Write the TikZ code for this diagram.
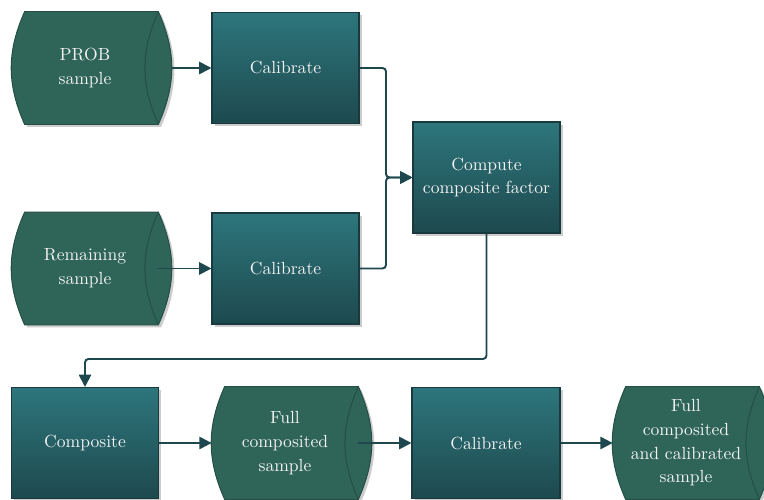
\documentclass[tikz,border=0pt]{standalone}
\usepackage{tikz}
\usetikzlibrary{arrows.meta,positioning,calc,shadows,backgrounds}

\definecolor{drumfill}{RGB}{47,101,88}
\definecolor{drumedge}{RGB}{37,80,70}
\definecolor{boxtop}{RGB}{45,118,124}
\definecolor{boxbot}{RGB}{29,73,78}
\definecolor{boxedge}{RGB}{24,58,62}
\definecolor{linkcol}{RGB}{30,72,78}
\definecolor{txt}{RGB}{242,242,242}

% horizontal drum drawn behind a named node
\newcommand{\drum}[1]{%
  \begin{scope}[on background layer]
    \filldraw[fill=drumfill, draw=drumedge, line width=0.6pt,
      drop shadow={shadow xshift=1.5pt, shadow yshift=-1.5pt, opacity=0.2, fill=black}]
      ([xshift=0.26cm]#1.north west) to[bend right=24] ([xshift=0.26cm]#1.south west)
      -- (#1.south east) to[bend right=24] (#1.north east) -- cycle;
    \draw[draw=drumedge, line width=0.6pt] (#1.north east) to[bend right=24] (#1.south east);
  \end{scope}}

\begin{document}
\begin{tikzpicture}[
  every node/.style={font=\fontsize{10}{13.5}\selectfont, text=txt, align=center},
  box/.style={draw=boxedge, line width=0.6pt, top color=boxtop, bottom color=boxbot,
    minimum width=2.94cm, minimum height=2.22cm, inner sep=2pt,
    drop shadow={shadow xshift=1.5pt, shadow yshift=-1.5pt, opacity=0.2, fill=black}},
  drum/.style={minimum width=2.92cm, minimum height=2.24cm, inner sep=2pt},
  arr/.style={-{Triangle[length=7pt, width=7pt]}, line width=1.1pt, draw=linkcol, rounded corners=2pt}
]
\useasboundingbox (0,0) rectangle (15.28,-10);

\node[drum] (prob) at (1.70,-1.36) {PROB\\sample};
\node[box] (cal1) at (5.71,-1.36) {Calibrate};
\node[drum] (rem) at (1.70,-5.37) {Remaining\\sample};
\node[box] (cal2) at (5.71,-5.37) {Calibrate};
\node[box] (cf) at (9.73,-3.55) {Compute\\composite factor};
\node[box] (cmp) at (1.70,-8.86) {Composite};
\node[drum] (full) at (5.70,-8.86) {Full\\composited\\sample};
\node[box, minimum width=2.96cm] (cal3) at (9.72,-8.86) {Calibrate};
\node[drum] (fin) at (13.72,-8.86) {Full\\composited\\and calibrated\\sample};

\drum{prob}
\drum{rem}
\drum{full}
\drum{fin}

\coordinate (jn) at ($(cal1.east)!.5!(cf.west)$);
\coordinate (jn) at (jn |- cf.west);

\draw[arr] ([xshift=0.28cm]prob.east) -- (cal1);
\draw[arr] (rem.east) -- (cal2);
\draw[arr] (cal1.east) -| (jn) -- (cf.west);
\draw[arr] (cal2.east) -| (jn) -- (cf.west);
\draw[arr] (cf.south) |- ([yshift=0.56cm]cmp.north) -- (cmp.north);
\draw[arr] (cmp.east) -- (full.west);
\draw[arr] (full.east) -- (cal3.west);
\draw[arr] (cal3.east) -- (fin.west);
\end{tikzpicture}
\end{document}
